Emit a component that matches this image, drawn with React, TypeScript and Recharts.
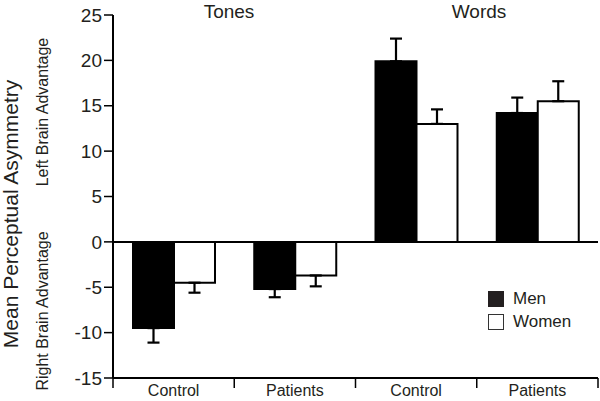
import React from 'react'
import { BarChart, Bar, XAxis, YAxis, ErrorBar, ReferenceLine, Legend } from 'recharts'

const categories = ['Control', 'Patients', 'Control', 'Patients']
const groups = ['Tones', 'Tones', 'Words', 'Words']
const groupTitles = ['Tones', 'Words']
const menValues = [-9.5, -5.2, 19.9, 14.2]
const menErrors = [1.6, 0.9, 2.5, 1.7]
const womenValues = [-4.5, -3.7, 13.0, 15.5]
const womenErrors = [1.1, 1.2, 1.6, 2.2]
const yTicks = [-15, -10, -5, 0, 5, 10, 15, 20, 25]

const W = 600
const H = 401
const LEFT = 113
const RIGHT = 2
const TOP = 15
const AXIS_Y = 378
const BAND = (W - LEFT - RIGHT) / categories.length
const FONT = '"Liberation Sans", Arial, Helvetica, sans-serif'
const INK = '#231f20'

// error bars only go away from zero
const oneSided = (v: number, e: number) => (v < 0 ? [e, 0] : [0, e])

const data = categories.map((c, i) => ({
  key: `${groups[i]}-${c}`,
  label: c,
  men: menValues[i],
  menErr: oneSided(menValues[i], menErrors[i]),
  women: womenValues[i],
  womenErr: oneSided(womenValues[i], womenErrors[i]),
}))

const XTick = (props: any) => {
  const { x, index } = props
  const left = x - BAND / 2
  return (
    <g>
      <line x1={left} x2={left} y1={AXIS_Y} y2={AXIS_Y + 10} stroke="#000" strokeWidth={1.5} />
      {index === categories.length - 1 && (
        <line x1={x + BAND / 2} x2={x + BAND / 2} y1={AXIS_Y} y2={AXIS_Y + 10} stroke="#000" strokeWidth={1.5} />
      )}
      <text x={x} y={396} textAnchor="middle" fontSize={16} fill={INK} fontFamily={FONT}>
        {categories[index]}
      </text>
    </g>
  )
}

const renderLegend = (props: any) => {
  const { payload } = props
  return (
    <div style={{ fontFamily: FONT, fontSize: 17, color: INK }}>
      {(payload || []).map((p: any, i: number) => (
        <div key={i} style={{ display: 'flex', alignItems: 'center', height: 23 }}>
          <div
            style={{
              width: 16, height: 16, boxSizing: 'border-box',
              background: i === 0 ? INK : '#fff',
              border: i === 0 ? 'none' : '1.3px solid #333',
              marginRight: 9,
            }}
          />
          <span>{p.value}</span>
        </div>
      ))}
    </div>
  )
}

export default function App() {
  return (
    <div style={{ position: 'absolute', left: 0, top: 0, width: W, height: H, background: '#fff' }}>
      <BarChart
        width={W}
        height={H}
        data={data}
        margin={{ top: TOP, right: RIGHT, bottom: 0, left: 0 }}
        barGap={0}
      >
        <XAxis
          dataKey="key"
          height={H - AXIS_Y}
          axisLine={{ stroke: '#000', strokeWidth: 2 }}
          tickLine={false}
          tick={<XTick />}
          interval={0}
        />
        <YAxis
          width={LEFT}
          domain={[-15, 25]}
          ticks={yTicks}
          interval={0}
          axisLine={{ stroke: '#000', strokeWidth: 2 }}
          tickLine={{ stroke: '#000', strokeWidth: 1.5 }}
          tickSize={9}
          tick={{ fontSize: 19, fill: INK, fontFamily: FONT }}
        />
        <ReferenceLine y={0} stroke="#000" strokeWidth={2} />
        <Bar dataKey="men" name="Men" fill="#000" stroke="#000" strokeWidth={2} barSize={41} isAnimationActive={false}>
          <ErrorBar dataKey="menErr" width={6} stroke="#000" strokeWidth={2.2} isAnimationActive={false} />
        </Bar>
        <Bar dataKey="women" name="Women" fill="#fff" stroke="#000" strokeWidth={2} barSize={41} isAnimationActive={false}>
          <ErrorBar dataKey="womenErr" width={6} stroke="#000" strokeWidth={2.2} isAnimationActive={false} />
        </Bar>
        <Legend
          layout="vertical"
          align="center"
          verticalAlign="middle"
          content={renderLegend}
          wrapperStyle={{ left: 488, top: 287, width: 110 }}
        />
      </BarChart>
      <svg
        width={W}
        height={H}
        style={{ position: 'absolute', left: 0, top: 0, pointerEvents: 'none' }}
        fontFamily={FONT}
      >
        <text x={229} y={18} textAnchor="middle" fontSize={19} fill={INK}>{groupTitles[0]}</text>
        <text x={479} y={18} textAnchor="middle" fontSize={19} fill={INK}>{groupTitles[1]}</text>
        <text transform="translate(18,214) rotate(-90)" textAnchor="middle" fontSize={21} fill={INK}>
          Mean Perceptual Asymmetry
        </text>
        <text transform="translate(48,112) rotate(-90)" textAnchor="middle" fontSize={16} fill={INK}>
          Left Brain Advantage
        </text>
        <text transform="translate(48,311) rotate(-90)" textAnchor="middle" fontSize={16} fill={INK}>
          Right Brain Advantage
        </text>
      </svg>
    </div>
  )
}
